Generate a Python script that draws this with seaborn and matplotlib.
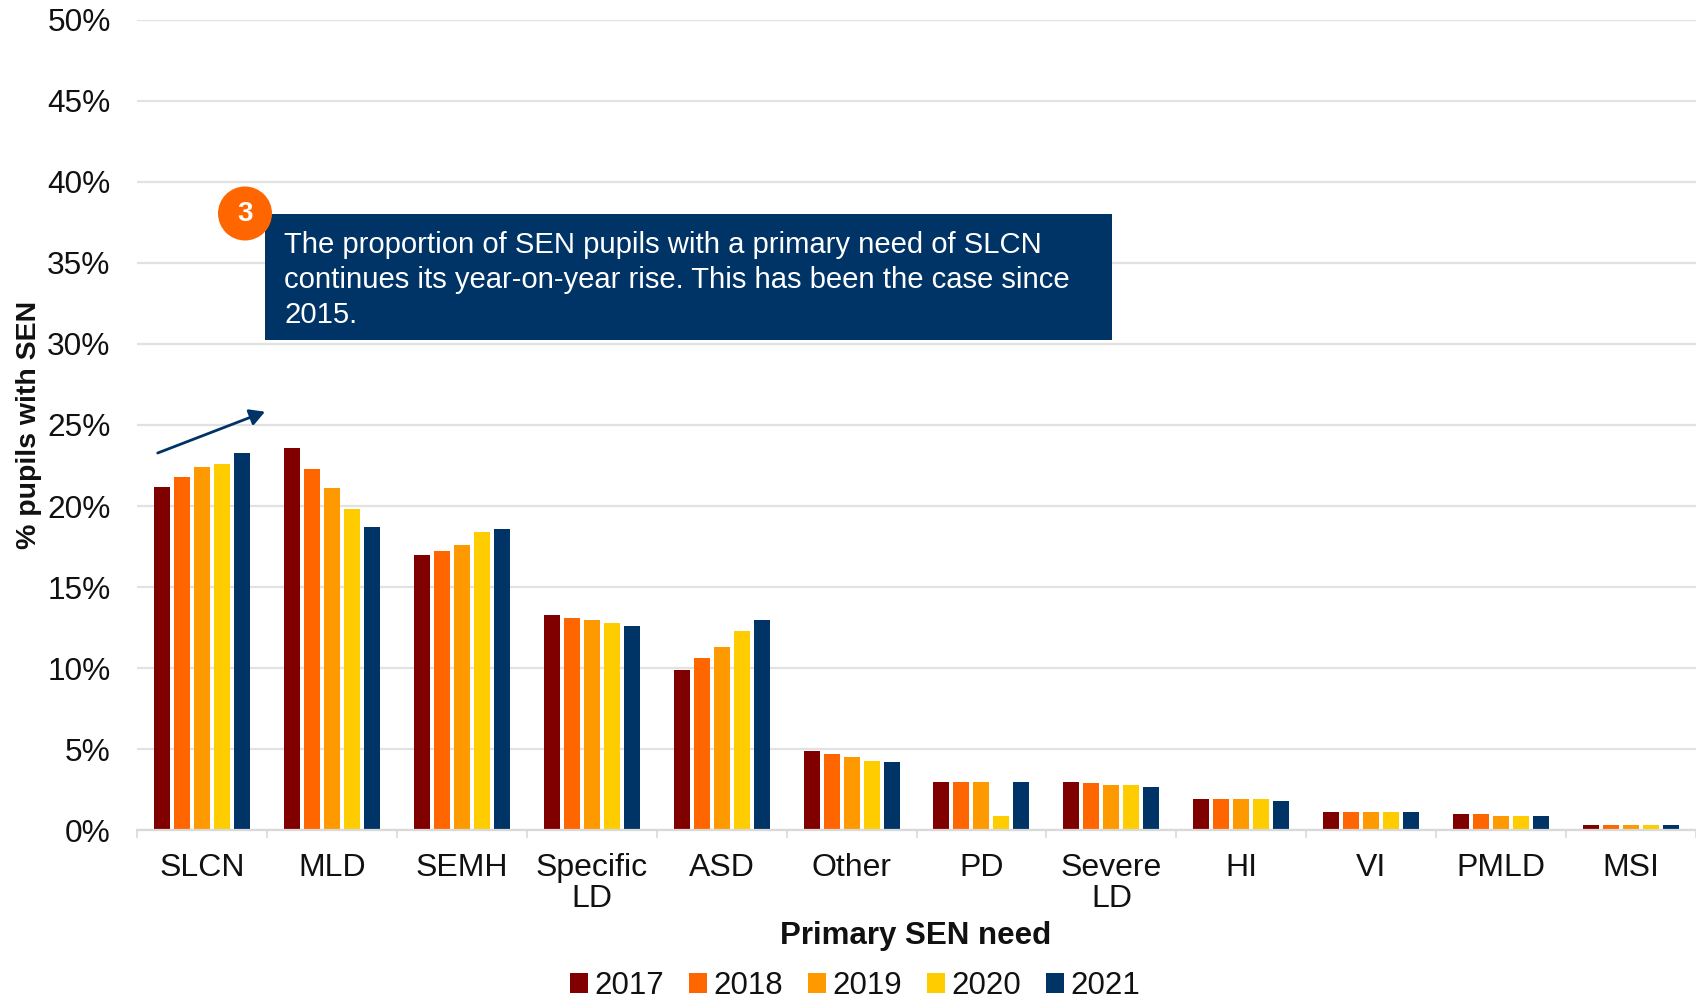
import matplotlib
matplotlib.use("Agg")
import matplotlib.pyplot as plt
from matplotlib.patches import Rectangle, Ellipse, FancyArrowPatch
from matplotlib.ticker import FuncFormatter, FixedLocator
import seaborn as sns
import pandas as pd

categories = ["SLCN", "MLD", "SEMH", "Specific\nLD", "ASD", "Other", "PD", "Severe\nLD", "HI", "VI", "PMLD", "MSI"]
years = ["2017", "2018", "2019", "2020", "2021"]
v2017 = [21.2, 23.6, 17.0, 13.3, 9.9, 4.9, 3.0, 3.0, 1.9, 1.1, 1.0, 0.3]
v2018 = [21.8, 22.3, 17.2, 13.1, 10.6, 4.7, 3.0, 2.9, 1.9, 1.1, 1.0, 0.3]
v2019 = [22.4, 21.1, 17.6, 13.0, 11.3, 4.5, 3.0, 2.8, 1.9, 1.1, 0.9, 0.3]
v2020 = [22.6, 19.8, 18.4, 12.8, 12.3, 4.3, 0.9, 2.8, 1.9, 1.1, 0.9, 0.3]
v2021 = [23.3, 18.7, 18.6, 12.6, 13.0, 4.2, 3.0, 2.7, 1.8, 1.1, 0.9, 0.3]
colors = ["#800000", "#FF6600", "#FF9900", "#FFCC00", "#003366"]
note = ("The proportion of SEN pupils with a primary need of SLCN\n"
        "continues its year-on-year rise. This has been the case since\n"
        "2015.")

df = pd.DataFrame({"need": categories, "2017": v2017, "2018": v2018, "2019": v2019,
                   "2020": v2020, "2021": v2021}).melt("need", var_name="year", value_name="pct")

sns.set_theme(style="white")
plt.rcParams["font.family"] = ["Liberation Sans", "DejaVu Sans"]
W, H = 1696, 1000
fig = plt.figure(figsize=(W / 100, H / 100), dpi=100)
ax = fig.add_axes([137 / W, 1 - 830.3 / H, (W - 137) / W, (830.3 - 19.6) / H])

sns.barplot(data=df, x="need", y="pct", hue="year", palette=colors, hue_order=years,
            width=0.77, gap=0.2, saturation=1, ax=ax, zorder=3, linewidth=0)

ax.set_xlim(-0.5, 11.5)
ax.set_ylim(0, 50)
ax.set_yticks(range(0, 51, 5))
ax.yaxis.set_major_formatter(FuncFormatter(lambda v, _: f"{v:.0f}%"))
ax.grid(axis="y", color="#E2E2E2", lw=1.6, zorder=0)
ax.set_axisbelow(True)
for s in ("top", "right", "left"):
    ax.spines[s].set_visible(False)
ax.spines["bottom"].set_color("#D9D9D9")
ax.spines["bottom"].set_linewidth(1.6)
ax.spines["bottom"].set_zorder(4)

ax.xaxis.set_minor_locator(FixedLocator([i - 0.5 for i in range(13)]))
ax.tick_params(axis="x", which="minor", bottom=True, length=6, width=1.2, color="#D9D9D9")
ax.tick_params(axis="x", which="major", bottom=False, labelsize=23, pad=10, colors="#111111")
ax.tick_params(axis="y", left=False, labelsize=22.8, pad=13, colors="#111111")
for t in ax.get_xticklabels():
    t.set_linespacing(1.08)

fig.text(847 * 1.0816 / W, 1 - 936 / H, "Primary SEN need", fontsize=22.5, fontweight="bold",
         ha="center", va="center", color="#111111")
fig.text(29 / W, 1 - 425 / H, "% pupils with SEN", fontsize=20.5, fontweight="bold", rotation=90,
         ha="center", va="center", color="#111111")
ax.set_xlabel("")
ax.set_ylabel("")

h, l = ax.get_legend_handles_labels()
ax.legend(h, l, ncol=5, frameon=False, fontsize=22.5, loc="center", bbox_to_anchor=(855 / W, 1 - 986 / H),
          bbox_transform=fig.transFigure, handlelength=0.58, handleheight=0.58, handletextpad=0.2,
          columnspacing=0.8, borderpad=0, borderaxespad=0, labelcolor="#111111")

tf = fig.transFigure
fig.add_artist(Rectangle((265 / W, 1 - 340 / H), (1112 - 265) / W, 126 / H, transform=tf,
                         fc="#003366", ec="none", zorder=5))
fig.text(284 / W, 1 - 280 / H, note, color="white", fontsize=21.1, va="center", ha="left",
         linespacing=1.33, zorder=6)
fig.add_artist(Ellipse((245 / W, 1 - 213.5 / H), 54 / W, 54 / H, transform=tf,
                       fc="#FF6600", ec="none", zorder=7))
fig.text(245 / W, 1 - 214 / H, "3", color="white", fontsize=20, fontweight="bold", ha="center",
         va="center", zorder=8)
fig.add_artist(FancyArrowPatch((157.7 / W, 1 - 453 / H), (265 / W, 1 - 411.7 / H), transform=tf,
                               arrowstyle="-|>,head_length=9,head_width=5", color="#003366", lw=2,
                               shrinkA=0, shrinkB=0, zorder=7))

fig.savefig("out.png", dpi=100, facecolor="white")
